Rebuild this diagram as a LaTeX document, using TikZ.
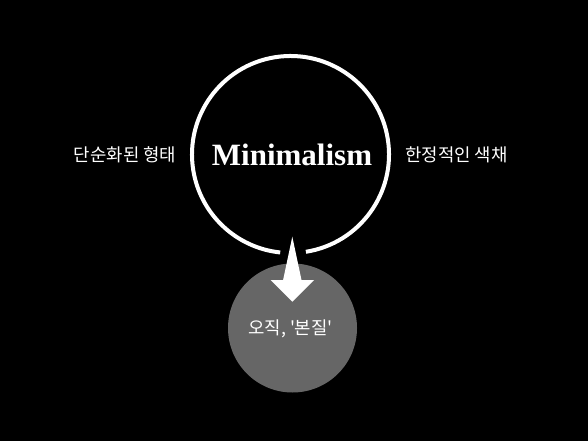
\documentclass[tikz,border=0pt]{standalone}
\usepackage{fontspec}
\setmainfont{Liberation Serif}
\newfontfamily\krfont{Noto Sans CJK KR}
\usepackage{tikz}
\usetikzlibrary{positioning}

\tikzset{
  krlabel/.style={text=white,font=\krfont\fontsize{17.8bp}{21bp}\selectfont,inner sep=0pt},
  titlelabel/.style={text=white,font=\bfseries\fontsize{31bp}{35bp}\selectfont,inner sep=0pt}
}

\begin{document}
\begin{tikzpicture}[line cap=round,line join=round,x=1bp,y=-1bp]
\useasboundingbox (0,0) rectangle (588,441);
\fill[black] (0,0) rectangle (588,441);
% bottom circle
\fill[color={rgb,255:red,102;green,102;blue,102}] (292.5,328) circle (64.5bp);
% outer ring, open at the bottom
\draw[white,line width=4bp,line cap=butt] (290.5,154.5) ++(-81:98.5bp) arc[start angle=-81,end angle=264,radius=98.5bp];
% arrow
\fill[white] (292.3,236.7) -- (301.5,280) -- (314,280) -- (292.3,301.7) -- (270.7,280) -- (283.1,280) -- cycle;
\node[titlelabel] (minimalism) at (292,155) {Minimalism};
\node[krlabel] (form) at (125,155) {단순화된 형태};
\node[krlabel] (colour) at (456.5,155) {한정적인 색채};
\node[krlabel] (essence) at (290.5,329) {오직, '본질'};
\end{tikzpicture}
\end{document}
